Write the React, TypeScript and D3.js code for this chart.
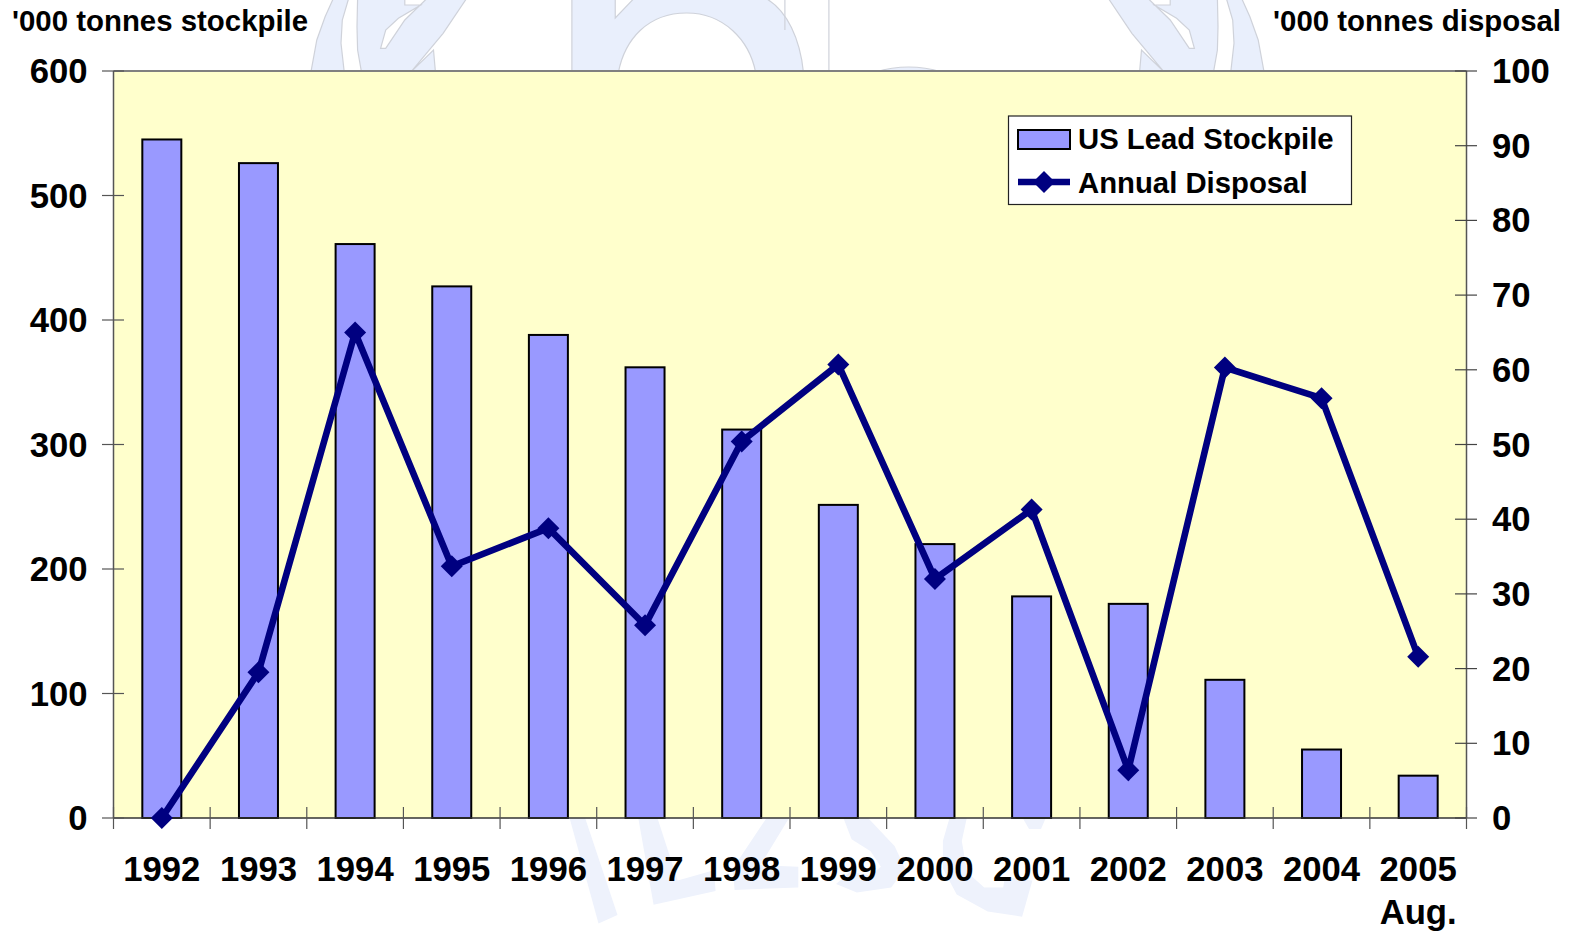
import React from "react";
import * as d3 from "d3";

const years = ["1992","1993","1994","1995","1996","1997","1998","1999","2000","2001","2002","2003","2004","2005"];
const stockpile = [545,526,461,427,388,362,312,251.5,220,178,172,111,55,34];
const disposal = [0,19.5,65,33.7,38.8,25.8,50.4,60.7,32,41.3,6.4,60.3,56.2,21.6];
const leftTicks = [0,100,200,300,400,500,600];
const rightTicks = [0,10,20,30,40,50,60,70,80,90,100];

const W = 1571, H = 931;
const L = 113.5, R = 1466.5, T = 71, B = 818;
const FONT = "'Liberation Sans', Arial, sans-serif";
const WM = "#e9effc", WMS = "#cfd2da", WML = "#eef2fc";

const xEdge = d3.scaleLinear().domain([0, years.length]).range([L, R]);
const yLeft = d3.scaleLinear().domain([0, 600]).range([B, T]);
const yRight = d3.scaleLinear().domain([0, 100]).range([B, T]);
const cx = (i: number) => xEdge(i + 0.5);
const linePath = d3.line<number>().x((_, i) => cx(i)).y(d => yRight(d))(disposal) || "";
const diamond = (x: number, y: number, r: number) => `M${x},${y - r}L${x + r},${y}L${x},${y + r}L${x - r},${y}Z`;

// Faint background logo, only its parts outside the plot show
const topX = (p: number) => 290 + p / 1.568;
const topY = (p: number) => p / 3;
const topPoly = (pts: number[][]) => pts.map(([a, b], i) => `${i ? "L" : "M"}${topX(a).toFixed(1)},${topY(b).toFixed(1)}`).join("") + "Z";
const mirrorPoly = (pts: number[][]) => pts.map(([a, b], i) => `${i ? "L" : "M"}${(1575 - topX(a)).toFixed(1)},${topY(b).toFixed(1)}`).join("") + "Z";
const leafA = [[33,215],[42,120],[55,50],[68,-5],[92,-5],[82,60],[80,130],[85,215]];
const leafB = [[106,-5],[105,80],[106,150],[112,215],[190,215],[225,150],[228,215],[190,215],[240,100],[277,-5],[215,-5],[180,60],[150,145],[142,145],[150,90],[170,55],[205,15],[180,15],[180,-5]];

const lower = (pts: number[][]) => pts.map(([a, b], i) => `${i ? "L" : "M"}${(540 + a / 2.904).toFixed(1)},${(810 + b / 2.904).toFixed(1)}`).join("") + "Z";
const letters = [
  [[85,20],[130,20],[225,305],[170,330]],
  [[285,20],[340,20],[400,205],[505,175],[510,235],[330,275]],
  [[660,20],[725,20],[640,160],[750,165],[750,225],[565,232],[560,170]],
  [[880,20],[950,20],[1030,105],[1060,170],[1020,225],[920,240],[860,215],[900,180],[960,190],[990,165],[960,120],[905,85]],
  [[1190,20],[1240,20],[1225,90],[1240,180],[1290,225],[1345,225],[1350,195],[1430,205],[1400,310],[1300,295],[1210,245],[1170,170],[1170,90]],
  [[1400,20],[1470,20],[1455,55],[1420,55]],
];

const txt = { fontFamily: FONT, fontWeight: 700, fill: "#000" } as const;

export default function App() {
  return (
    <svg width={W} height={H} viewBox={`0 0 ${W} ${H}`} style={{ position: "absolute", left: 0, top: 0, display: "block", background: "#fff" }}>
      <g fill={WM} stroke={WMS} strokeWidth={1.2}>
        <path d={topPoly(leafA)} />
        <path d={topPoly(leafB)} />
        <path d={mirrorPoly(leafA)} />
        <path d={mirrorPoly(leafB)} />
        <path d={`M${topX(442)},-2V72H${topX(515)}C${topX(525)},40 ${topX(560)},13 ${topX(622)},13C${topX(680)},13 ${topX(720)},40 ${topX(730)},72H${topX(805)}C${topX(800)},40 ${topX(780)},10 ${topX(745)},-2H${topX(540)}L${topX(510)},18V-2Z`} />
        <path d={`M${topX(776)},-2V30`} fill="none" />
        <path d={`M${topX(845)},-2V72`} fill="none" />
        <path d={`M${topX(918)},72Q${topX(970)},62 ${topX(1022)},72`} />
      </g>
      <g fill={WML}>
        {letters.map((l, i) => <path key={i} d={lower(l)} />)}
      </g>

      <rect x={L} y={T} width={R - L} height={B - T} fill="#ffffcc" />
      <line x1={L} x2={R} y1={T} y2={T} stroke="#808080" strokeWidth={2} />

      {years.map((y, i) => (
        <rect key={y} x={cx(i) - 19.5} width={39} y={yLeft(stockpile[i])} height={B - yLeft(stockpile[i])} fill="#9999ff" stroke="#000" strokeWidth={2} />
      ))}

      <line x1={L} x2={L} y1={T} y2={B} stroke="#555" strokeWidth={1.5} />
      <line x1={R} x2={R} y1={T} y2={B} stroke="#555" strokeWidth={1.5} />
      <line x1={L} x2={R} y1={B} y2={B} stroke="#333" strokeWidth={1.5} />

      {leftTicks.map(t => (
        <g key={t}>
          <line x1={102} x2={124} y1={yLeft(t)} y2={yLeft(t)} stroke="#555" strokeWidth={1.2} />
          <text x={87.5} y={yLeft(t) + 12} textAnchor="end" fontSize={34.7} {...txt}>{t}</text>
        </g>
      ))}
      {rightTicks.map(t => (
        <g key={t}>
          <line x1={1455} x2={1477} y1={yRight(t)} y2={yRight(t)} stroke="#444" strokeWidth={1.2} />
          <text x={1492} y={yRight(t) + 12} fontSize={34.7} {...txt}>{t}</text>
        </g>
      ))}
      {d3.range(years.length + 1).map(i => (
        <line key={i} x1={xEdge(i)} x2={xEdge(i)} y1={807} y2={829} stroke="#555" strokeWidth={1.2} />
      ))}
      {years.map((y, i) => (
        <text key={y} x={cx(i)} y={881} textAnchor="middle" fontSize={34.7} {...txt}>{y}</text>
      ))}
      <text x={cx(13)} y={924} textAnchor="middle" fontSize={34.7} {...txt}>Aug.</text>

      <path d={linePath} fill="none" stroke="#000080" strokeWidth={6.6} strokeLinejoin="miter" />
      {disposal.map((d, i) => <path key={i} d={diamond(cx(i), yRight(d), 11)} fill="#000080" />)}

      <text x={12} y={31} fontSize={29.4} {...txt}>'000 tonnes stockpile</text>
      <text x={1561} y={31} textAnchor="end" fontSize={29.4} {...txt}>'000 tonnes disposal</text>

      <rect x={1008.5} y={116} width={343} height={88.5} fill="#fff" stroke="#222" strokeWidth={1.2} />
      <rect x={1018} y={130} width={52} height={19} fill="#9999ff" stroke="#000" strokeWidth={2} />
      <line x1={1018} x2={1070} y1={182} y2={182} stroke="#000080" strokeWidth={6.6} />
      <path d={diamond(1044, 182, 11)} fill="#000080" />
      <text x={1078} y={149} fontSize={29.3} {...txt}>US Lead Stockpile</text>
      <text x={1078} y={193} fontSize={29.3} {...txt}>Annual Disposal</text>
    </svg>
  );
}
